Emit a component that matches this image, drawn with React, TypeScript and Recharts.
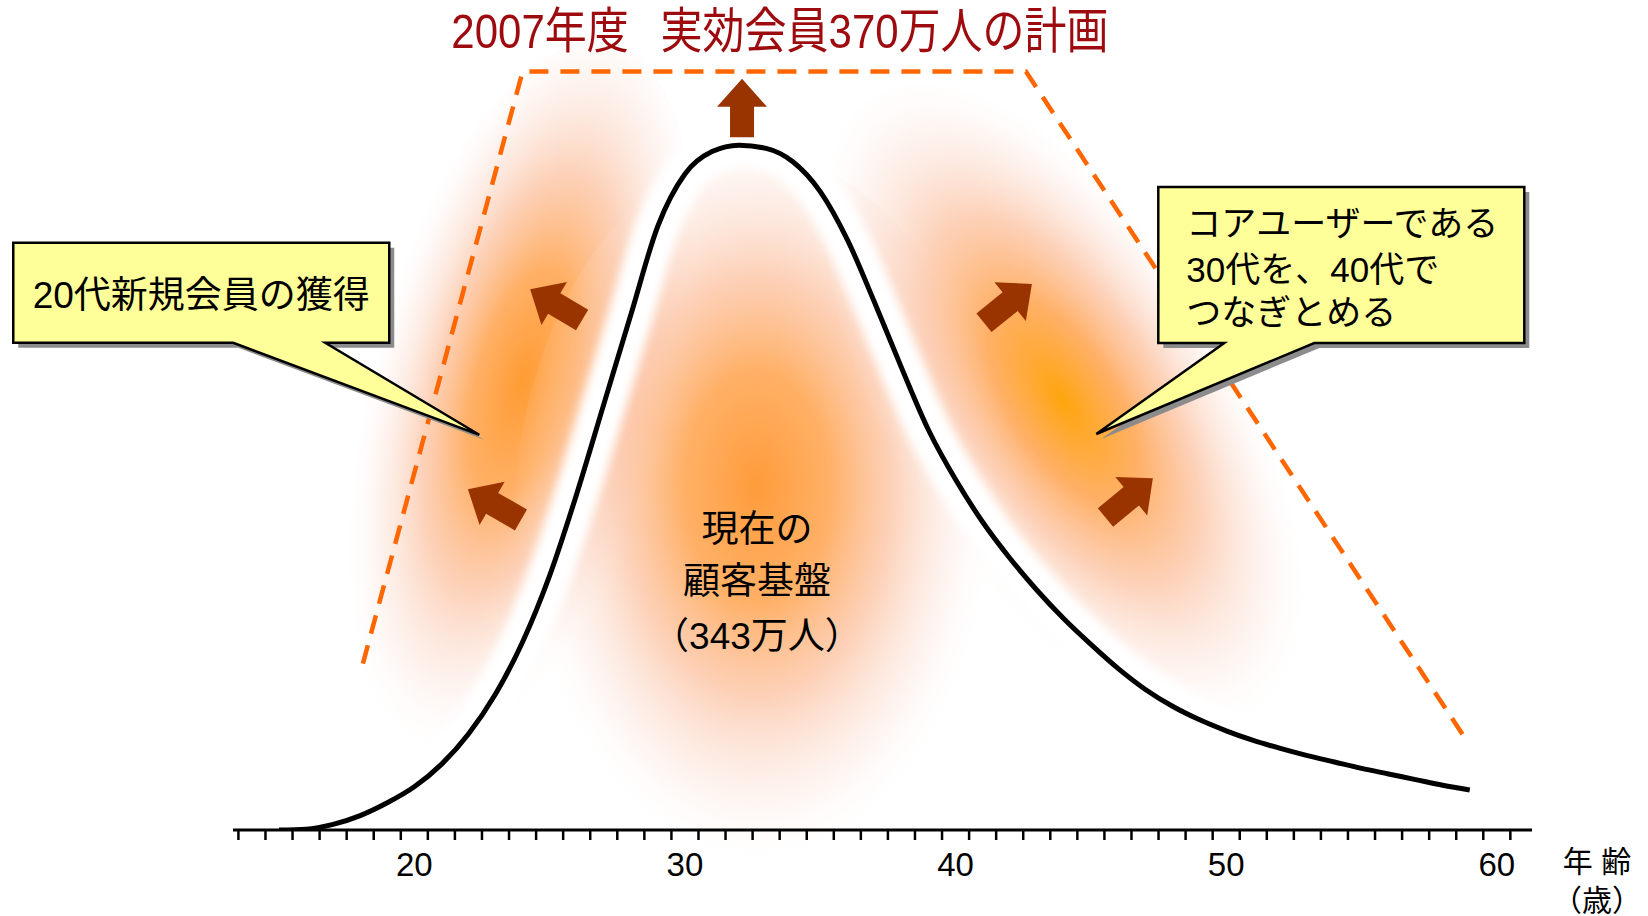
import { LineChart, Line, XAxis, YAxis, ReferenceDot, ReferenceLine } from "recharts";

// 会員数の年齢分布（現在）
const ages = [15, 16, 17, 18, 19, 20, 21, 22, 23, 24, 25, 26, 27, 28, 29, 30, 31, 32, 33, 34, 35, 36, 37, 38, 39, 40, 41, 42, 43, 44, 45, 46, 47, 48, 49, 50, 51, 52, 53, 54, 55, 56, 57, 58, 59];
const members = [0, 0.1, 0.7, 1.8, 3.4, 5.4, 8.2, 12.0, 17.0, 23.5, 31.8, 42.0, 53.2, 64.4, 75.5, 82, 84.8, 85.6, 85.2, 83.5, 79.8, 73.8, 66, 57.8, 50, 43.8, 38.5, 34, 30, 26.4, 23.2, 20.2, 17.6, 15.5, 13.8, 12.4, 11.2, 10.2, 9.3, 8.5, 7.7, 7.0, 6.3, 5.6, 5.0];

// 2007年度計画の外形
const planAges = [18.1, 24.0, 42.6, 58.9];
const planMembers = [20.8, 94.8, 94.8, 11.1];

const ageLabels = [20, 30, 40, 50, 60];
const yearTicks = Array.from({ length: 48 }, (_, i) => 13.5 + i);

// 矢印（根元 → 先端）
const arrowTails = [[32.11, 86.6], [26.2, 63.75], [23.94, 38.75], [41.05, 63.4], [45.54, 39.06]];
const arrowTips = [[32.11, 93.9], [24.28, 67.6], [21.98, 42.6], [42.82, 68.25], [47.29, 43.96]];

// ぼかしの中心 [age, value]
const glowCenters = [[23.61, 51.25], [32.66, 36.25], [44.41, 51.25]];

const curveData = ages.map((age, i) => ({ age, members: members[i] }));
const planData = planAges.map((age, i) => ({ age, plan: planMembers[i] }));

const FONT = "'Liberation Sans', 'Noto Sans CJK JP', sans-serif";

const glowShapes = [
  { rx: 155, ry: 390, rot: 15, id: "glowL" },
  { rx: 245, ry: 385, rot: 0, id: "glowC" },
  { rx: 175, ry: 380, rot: -32, id: "glowR" },
];

function GlowGradient({ id, cy, core }: any) {
  return (
    <radialGradient id={id} cx="0.5" cy={cy} r="0.5" fx="0.5" fy={cy}>
      <stop offset="0" stopColor={core} stopOpacity={0.95} />
      <stop offset="0.3" stopColor="#FF9F45" stopOpacity={0.82} />
      <stop offset="0.55" stopColor="#FBB085" stopOpacity={0.58} />
      <stop offset="0.8" stopColor="#F9D0BE" stopOpacity={0.25} />
      <stop offset="1" stopColor="#FFFFFF" stopOpacity={0} />
    </radialGradient>
  );
}

function Glow({ cx, cy, rx, ry, rot, id }: any) {
  return (
    <ellipse
      cx={cx}
      cy={cy}
      rx={rx}
      ry={ry}
      fill={`url(#${id})`}
      transform={`rotate(${rot} ${cx} ${cy})`}
    />
  );
}

function BlockArrow({ x1, y1, x2, y2 }: any) {
  const len = Math.hypot(x2 - x1, y2 - y1);
  const ang = (Math.atan2(y2 - y1, x2 - x1) * 180) / Math.PI;
  const hl = 28, hw = 25, sw = 12;
  const pts = [[0, -sw], [len - hl, -sw], [len - hl, -hw], [len, 0], [len - hl, hw], [len - hl, sw], [0, sw]];
  return (
    <polygon
      points={pts.map((p) => p.join(",")).join(" ")}
      transform={`translate(${x1},${y1}) rotate(${ang})`}
      fill="#993300"
    />
  );
}

function Callout({ cx, cy, box, base, lines, fontSize, textX, lineY, anchor }: any) {
  const [l, t, r, b] = box;
  const d = `M${cx + l},${cy + t} H${cx + r} V${cy + b} H${cx + base[1]} L${cx},${cy} L${cx + base[0]},${cy + b} H${cx + l} Z`;
  return (
    <g>
      <path d={d} transform="translate(5,5)" fill="#8c8c8c" />
      <path d={d} fill="#FFFF99" stroke="#000" strokeWidth={2.5} />
      {lines.map((s: string, i: number) => (
        <text
          key={i}
          x={cx + textX}
          y={cy + lineY[i]}
          textAnchor={anchor}
          dominantBaseline="central"
          fontSize={fontSize}
          fontFamily={FONT}
          fill="#000"
        >
          {s}
        </text>
      ))}
    </g>
  );
}

function AgeTick({ x, y, payload }: any) {
  const v = payload.value;
  if (v % 10 === 0) {
    return (
      <text x={x} y={y + 36} textAnchor="middle" fontSize={33} fontFamily={FONT} fill="#000">
        {v}
      </text>
    );
  }
  return <line x1={x} y1={y - 10} x2={x} y2={y} stroke="#000" strokeWidth={2.5} />;
}

export default function App() {
  return (
    <div style={{ position: "absolute", left: 0, top: 0, width: 1648, height: 916, background: "#fff", overflow: "hidden" }}>
      <LineChart width={1648} height={916} data={curveData} margin={{ top: 30, right: 116, bottom: 36, left: 233 }}>
        <defs>
          <GlowGradient id="glowL" cy={0.45} core="#FF9628" />
          <GlowGradient id="glowC" cy={0.43} core="#FF9630" />
          <GlowGradient id="glowR" cy={0.47} core="#FFA000" />
          <filter id="soften" x="-20%" y="-20%" width="140%" height="140%">
            <feGaussianBlur stdDeviation="5" />
          </filter>
        </defs>
        <XAxis
          dataKey="age"
          type="number"
          domain={[13.3, 61.3]}
          allowDataOverflow
          ticks={[...yearTicks, ...ageLabels]}
          interval={0}
          tick={<AgeTick />}
          tickLine={false}
          tickSize={10}
          tickMargin={0}
          height={50}
          axisLine={{ stroke: "#000", strokeWidth: 3 }}
        />
        <YAxis hide type="number" domain={[0, 100]} allowDataOverflow />

        {glowCenters.map(([gx, gy], i) => (
          <ReferenceDot
            key={`g${i}`}
            x={gx}
            y={gy}
            r={1}
            zIndex={-50}
            ifOverflow="visible"
            shape={(p: any) => <Glow cx={p.cx} cy={p.cy} {...glowShapes[i]} />}
          />
        ))}

        <Line
          data={planData}
          dataKey="plan"
          type="linear"
          stroke="#FF6600"
          strokeWidth={4.5}
          strokeDasharray="19 12"
          dot={false}
          isAnimationActive={false}
        />
        {/* white halo under the distribution curve */}
        <Line
          dataKey="members"
          type="monotone"
          stroke="#FFFFFF"
          strokeWidth={44}
          filter="url(#soften)"
          dot={false}
          isAnimationActive={false}
        />
        <Line
          dataKey="members"
          type="monotone"
          stroke="#000"
          strokeWidth={5}
          dot={false}
          isAnimationActive={false}
        />

        {arrowTails.map(([ax, ay], i) => (
          <ReferenceLine
            key={`a${i}`}
            segment={[{ x: ax, y: ay }, { x: arrowTips[i][0], y: arrowTips[i][1] }]}
            zIndex={450}
            ifOverflow="visible"
            shape={(p: any) => <BlockArrow {...p} />}
          />
        ))}

        <ReferenceDot
          x={22.4}
          y={49.4}
          r={1}
          zIndex={700}
          ifOverflow="visible"
          shape={(p: any) => (
            <Callout
              cx={p.cx}
              cy={p.cy}
              box={[-466, -192, -90, -92]}
              base={[-246, -154]}
              lines={["20代新規会員の獲得"]}
              fontSize={37}
              textX={-278}
              lineY={[-139]}
              anchor="middle"
            />
          )}
        />
        <ReferenceDot
          x={45.2}
          y={49.5}
          r={1}
          zIndex={700}
          ifOverflow="visible"
          shape={(p: any) => (
            <Callout
              cx={p.cx}
              cy={p.cy}
              box={[62, -247, 428, -91]}
              base={[128, 218]}
              lines={["コアユーザーである", "30代を、40代で", "つなぎとめる"]}
              fontSize={35}
              textX={90}
              lineY={[-211, -165, -122]}
              anchor="start"
            />
          )}
        />
        <ReferenceDot
          x={32.66}
          y={31.1}
          r={1}
          zIndex={700}
          ifOverflow="visible"
          shape={(p: any) => (
            <g fontFamily={FONT} fontSize={37} textAnchor="middle" fill="#000">
              <text x={p.cx} y={p.cy - 52} dominantBaseline="central">現在の</text>
              <text x={p.cx} y={p.cy} dominantBaseline="central">顧客基盤</text>
              <text x={p.cx} y={p.cy + 55} dominantBaseline="central">（343万人）</text>
            </g>
          )}
        />
      </LineChart>

      <div
        style={{
          position: "absolute",
          left: 380,
          top: 11,
          width: 800,
          textAlign: "center",
          fontFamily: FONT,
          fontSize: 42,
          lineHeight: "41px",
          color: "#9E0B0F",
          whiteSpace: "pre",
          transform: "scaleY(1.16)",
        }}
      >
        {"2007年度  \u2009実効会員370万人の計画"}
      </div>
      <div
        style={{
          position: "absolute",
          left: 1547,
          width: 100,
          top: 842,
          textAlign: "center",
          fontFamily: FONT,
          fontSize: 30,
          lineHeight: "39px",
          color: "#000",
        }}
      >
        <div>年 齢</div>
        <div>（歳）</div>
      </div>
    </div>
  );
}
